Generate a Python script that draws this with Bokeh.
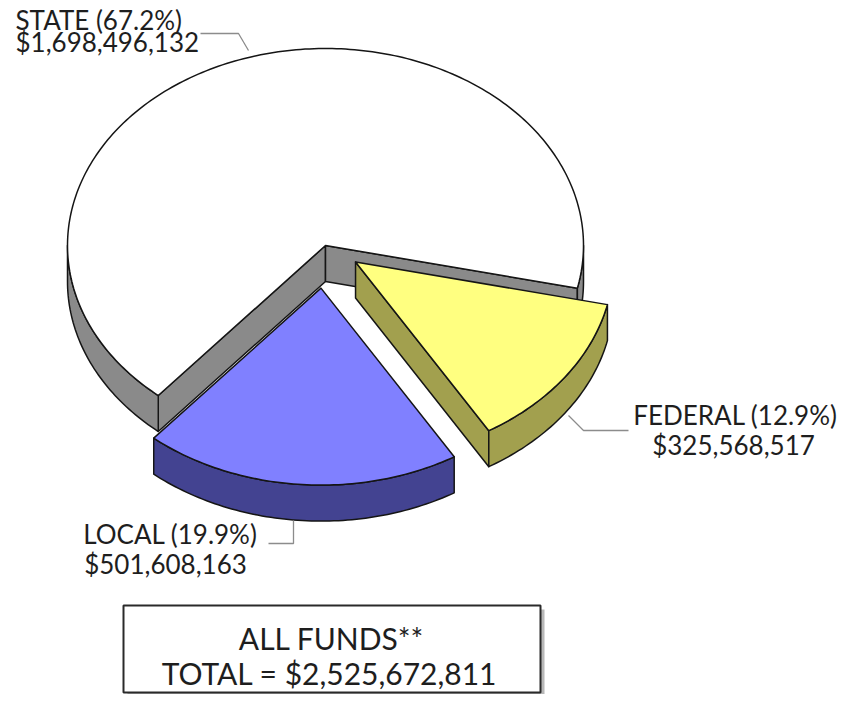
import numpy as np
from bokeh.plotting import figure
from bokeh.models import Range1d, ColumnDataSource
from bokeh.core.properties import value
from bokeh.embed import file_html
from bokeh.resources import INLINE

# ---------------- data ----------------
categories = ["STATE", "FEDERAL", "LOCAL"]
amounts = [1698496132, 325568517, 501608163]
box_title = "ALL FUNDS**"
box_total = "TOTAL = $2,525,672,811"

total = float(sum(amounts))
fracs = {c: a / total for c, a in zip(categories, amounts)}
amount_of = dict(zip(categories, amounts))

# ---------------- styles / geometry ----------------
CX, CY = 325.0, 245.0
RX, RY = 258.0, 197.0
DEPTH = 36.0
START = -12.5                      # FEDERAL begins here, slices run clockwise
CLOCKWISE_ORDER = ["FEDERAL", "LOCAL", "STATE"]
DRAW_ORDER = ["STATE", "LOCAL", "FEDERAL"]
explode = {"STATE": 0.0, "FEDERAL": 37.0, "LOCAL": 56.0}
top_colors = {"STATE": "#ffffff", "FEDERAL": "#ffff80", "LOCAL": "#8080ff"}
side_colors = {"STATE": "#8a8a8a", "FEDERAL": "#a2a04e", "LOCAL": "#434391"}
EDGE = "#151515"

# angular extents from data
extent = {}
running = START
for c in CLOCKWISE_ORDER:
    hi = running
    lo = running - fracs[c] * 360.0
    extent[c] = (lo, hi)
    running = lo


def offset(c):
    lo, hi = extent[c]
    m = np.radians((lo + hi) / 2.0)
    d = explode[c]
    return d * np.cos(m), -d * np.sin(m) * RY / RX


def pt(c, theta_deg, z=0.0):
    ox, oy = offset(c)
    t = np.radians(theta_deg)
    return CX + ox + RX * np.cos(t), CY + oy - RY * np.sin(t) + z


def arc(c, a, b, z=0.0):
    n = max(4, int(abs(b - a) / 1.0) + 1)
    ts = np.linspace(a, b, n)
    xs, ys = [], []
    for t in ts:
        x, y = pt(c, t, z)
        xs.append(x)
        ys.append(y)
    return xs, ys


def center(c, z=0.0):
    ox, oy = offset(c)
    return CX + ox, CY + oy + z


patch_xs, patch_ys, patch_fill = [], [], []


def add(xs, ys, fill):
    patch_xs.append(list(xs))
    patch_ys.append(list(ys))
    patch_fill.append(fill)


for c in DRAW_ORDER:
    lo, hi = extent[c]
    side = side_colors[c]
    # visible cut faces
    for edge, normal in ((hi, hi + 90.0), (lo, lo - 90.0)):
        if np.sin(np.radians(normal)) < 0:
            cx0, cy0 = center(c)
            cx1, cy1 = center(c, DEPTH)
            x0, y0 = pt(c, edge)
            x1, y1 = pt(c, edge, DEPTH)
            add([cx0, x0, x1, cx1], [cy0, y0, y1, cy1], side)
    # visible (front) rim pieces
    for k in range(-3, 2):
        f_lo, f_hi = -180.0 + 360.0 * k, 0.0 + 360.0 * k
        a, b = max(lo, f_lo), min(hi, f_hi)
        if b - a > 0.05:
            tx, ty = arc(c, a, b)
            bx, by = arc(c, b, a, DEPTH)
            add(tx + bx, ty + by, side)
    # top face
    cx0, cy0 = center(c)
    tx, ty = arc(c, lo, hi)
    add([cx0] + tx, [cy0] + ty, top_colors[c])

# ---------------- figure ----------------
p = figure(width=839, height=694, x_range=Range1d(0, 839), y_range=Range1d(694, 0),
           output_backend="svg", toolbar_location=None, min_border=0,
           x_axis_type=None, y_axis_type=None)
p.grid.visible = False
p.outline_line_color = None
p.background_fill_color = "white"
p.border_fill_color = "white"

src = ColumnDataSource(dict(xs=patch_xs, ys=patch_ys, fill=patch_fill))
p.patches("xs", "ys", source=src, fill_color="fill", line_color=EDGE,
          line_width=1.5, line_join="round")

# leader lines
LEAD = "#8c8c8c"
p.line([200, 238, 248], [33, 33, 50], line_color=LEAD, line_width=1.3)
p.line([628, 583, 568], [430, 430, 415], line_color=LEAD, line_width=1.3)
p.line([268, 293, 293], [543, 543, 520], line_color=LEAD, line_width=1.3)

# labels
FONT = value("Lato")
TXT = "#1e1e1e"


def pct_line(c):
    return f"{c} ({fracs[c] * 100:.1f}%)"


def amt_line(c):
    return f"${amount_of[c]:,}"


p.text(x=[15, 15], y=[19, 41], text=[pct_line("STATE"), amt_line("STATE")],
       text_font=FONT, text_font_size="26px", text_align="left",
       text_baseline="middle", text_color=TXT)
p.text(x=[735, 733], y=[414, 444], text=[pct_line("FEDERAL"), amt_line("FEDERAL")],
       text_font=FONT, text_font_size="26px", text_align="center",
       text_baseline="middle", text_color=TXT)
p.text(x=[170, 165], y=[533, 563], text=[pct_line("LOCAL"), amt_line("LOCAL")],
       text_font=FONT, text_font_size="26px", text_align="center",
       text_baseline="middle", text_color=TXT)

# total box
p.quad(left=[127], right=[544], top=[609], bottom=[697], fill_color="#b8b8b8",
       line_color=None)
p.quad(left=[123], right=[540], top=[605], bottom=[692], fill_color="white",
       line_color="#2a2a2a", line_width=2)
p.text(x=[331, 329], y=[637, 672], text=[box_title, box_total],
       text_font=FONT, text_font_size="30px", text_align="center",
       text_baseline="middle", text_color=TXT)

open("out.html", "w").write(file_html(p, INLINE))
